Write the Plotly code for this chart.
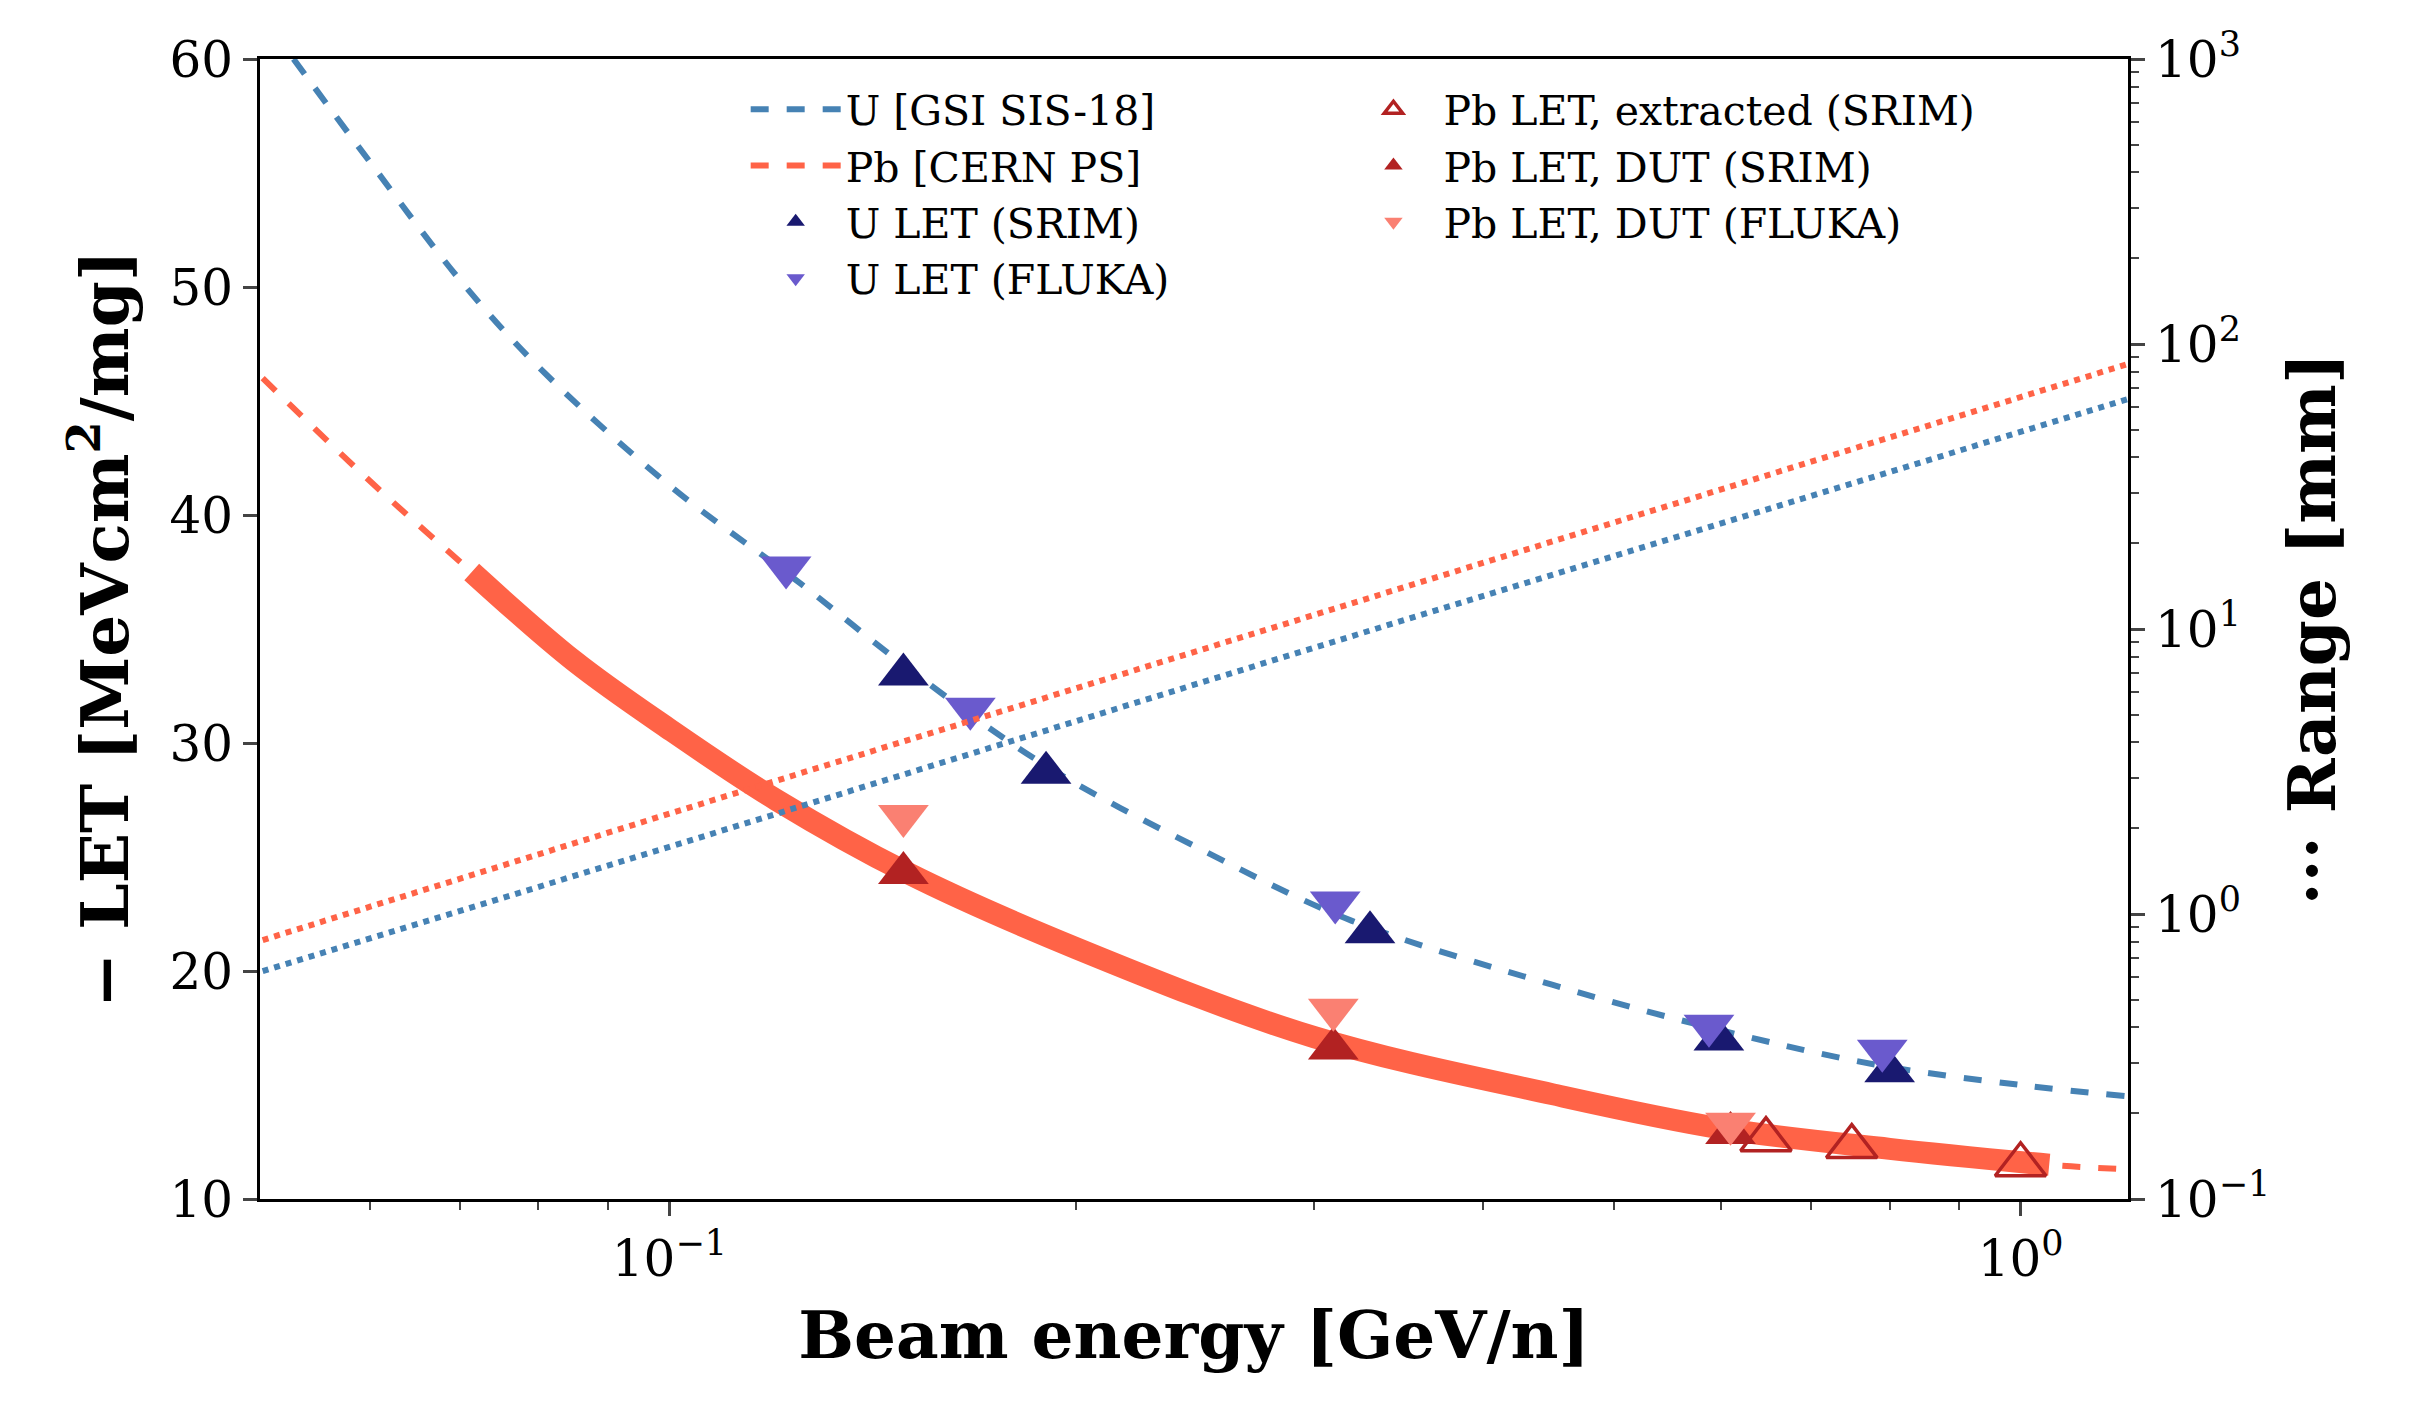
import plotly.graph_objects as go

# LET curves [MeV cm2/mg] vs beam energy [GeV/n]
u_energy = [0.0527, 0.06, 0.07, 0.08, 0.1, 0.125, 0.15, 0.19, 0.25, 0.32, 0.45, 0.6, 0.78, 1.0, 1.2]
u_let = [60.0, 55.5, 50.3, 46.5, 41.3, 37.0, 33.3, 29.0, 25.2, 22.2, 19.4, 17.4, 15.9, 15.0, 14.5]

pb_energy = [0.05, 0.06, 0.0714, 0.085, 0.1, 0.12, 0.15, 0.2, 0.3, 0.45, 0.6, 0.8, 1.05, 1.2]
pb_let = [46.0, 41.5, 37.5, 33.6, 30.6, 27.5, 24.3, 21.0, 17.1, 14.6, 13.1, 12.2, 11.5, 11.3]
pb_solid_energy = [0.0714, 0.085, 0.1, 0.12, 0.15, 0.2, 0.3, 0.45, 0.6, 0.8, 1.05]
pb_solid_let = [37.5, 33.6, 30.6, 27.5, 24.3, 21.0, 17.1, 14.6, 13.1, 12.2, 11.5]

# ranges [mm]
range_energy = [0.05, 0.1, 0.3, 1.2]
u_range = [0.63, 1.72, 8.6, 64.0]
pb_range = [0.81, 2.25, 11.2, 85.0]

# markers
u_srim_e = [0.149, 0.190, 0.33, 0.598, 0.80]
u_srim_let = [33.0, 28.7, 21.7, 17.0, 15.6]
u_fluka_e = [0.122, 0.167, 0.311, 0.588, 0.79]
u_fluka_let = [37.7, 31.5, 23.0, 17.6, 16.5]
pb_ext_e = [0.648, 0.75, 1.0]
pb_ext_let = [12.6, 12.3, 11.5]
pb_dut_srim_e = [0.149, 0.31, 0.61]
pb_dut_srim_let = [24.3, 16.6, 12.9]
pb_dut_fluka_e = [0.149, 0.31, 0.61]
pb_dut_fluka_let = [26.8, 18.3, 13.3]

BLUE = "#4682b4"
RED = "#ff6347"
FONT = "DejaVu Serif"

fig = go.Figure()

fig.add_trace(go.Scatter(x=range_energy, y=u_range, mode="lines", yaxis="y2",
                         line=dict(color=BLUE, width=6, dash="dot"), showlegend=False))
fig.add_trace(go.Scatter(x=range_energy, y=pb_range, mode="lines", yaxis="y2",
                         line=dict(color=RED, width=6, dash="dot"), showlegend=False))

fig.add_trace(go.Scatter(x=u_energy, y=u_let, mode="lines", name="U [GSI SIS-18]",
                         line=dict(color=BLUE, width=6, dash="dash", shape="spline"), legend="legend"))
fig.add_trace(go.Scatter(x=pb_energy, y=pb_let, mode="lines", name="Pb [CERN PS]",
                         line=dict(color=RED, width=6, dash="dash", shape="spline"), legend="legend"))
fig.add_trace(go.Scatter(x=pb_solid_energy, y=pb_solid_let, mode="lines", showlegend=False,
                         line=dict(color=RED, width=22, shape="spline")))

tri = dict(size=44, line=dict(width=0))
fig.add_trace(go.Scatter(x=u_srim_e, y=u_srim_let, mode="markers", name="U LET (SRIM)",
                         marker=dict(symbol="triangle-up", color="#191970", **tri), legend="legend"))
fig.add_trace(go.Scatter(x=u_fluka_e, y=u_fluka_let, mode="markers", name="U LET (FLUKA)",
                         marker=dict(symbol="triangle-down", color="#6a5acd", **tri), legend="legend"))
fig.add_trace(go.Scatter(x=pb_ext_e, y=pb_ext_let, mode="markers", name="Pb LET, extracted (SRIM)",
                         marker=dict(symbol="triangle-up-open", color="#b22222", size=44,
                                     line=dict(width=3.5)), legend="legend2"))
fig.add_trace(go.Scatter(x=pb_dut_srim_e, y=pb_dut_srim_let, mode="markers", name="Pb LET, DUT (SRIM)",
                         marker=dict(symbol="triangle-up", color="#b22222", **tri), legend="legend2"))
fig.add_trace(go.Scatter(x=pb_dut_fluka_e, y=pb_dut_fluka_let, mode="markers", name="Pb LET, DUT (FLUKA)",
                         marker=dict(symbol="triangle-down", color="#fa8072", **tri), legend="legend2"))

legend_style = dict(font=dict(family=FONT, size=41, color="black"), bgcolor="rgba(0,0,0,0)",
                    yanchor="top", xanchor="left", tracegroupgap=0, itemwidth=90,
                    itemsizing="trace")

fig.update_layout(
    width=2411, height=1402,
    margin=dict(l=252, r=291, t=51, b=211),
    plot_bgcolor="white", paper_bgcolor="white",
    font=dict(family=FONT, size=50, color="black"),
    xaxis=dict(type="log", range=[-1.303, 0.0795], showgrid=False, zeroline=False,
               showline=True, linecolor="black", linewidth=3, mirror=True,
               ticks="outside", ticklen=14, tickwidth=3,
               tickvals=[0.1, 1], ticktext=["10<sup>−1</sup>", "10<sup>0</sup>"],
               minor=dict(ticks="outside", ticklen=8, tickwidth=2,
                          tickvals=[0.06, 0.07, 0.08, 0.09, 0.2, 0.3, 0.4, 0.5, 0.6, 0.7, 0.8, 0.9]),
               title=dict(text="<b>Beam energy [GeV/n]</b>", font=dict(size=66), standoff=25)),
    yaxis=dict(range=[10, 60], dtick=10, showgrid=False, zeroline=False,
               showline=True, linecolor="black", linewidth=3,
               ticks="outside", ticklen=14, tickwidth=3,
               title=dict(text="<b>− LET [MeVcm<sup>2</sup>/mg]</b>", font=dict(size=66), standoff=20)),
    yaxis2=dict(type="log", range=[-1, 3], overlaying="y", side="right", showgrid=False,
                showline=True, linecolor="black", linewidth=3,
                ticks="outside", ticklen=14, tickwidth=3,
                tickvals=[0.1, 1, 10, 100, 1000],
                ticktext=["10<sup>−1</sup>", "10<sup>0</sup>", "10<sup>1</sup>", "10<sup>2</sup>", "10<sup>3</sup>"],
                minor=dict(ticks="outside", ticklen=8, tickwidth=2, dtick="D1"),
                title=dict(text="<b>··· Range [mm]</b>", font=dict(size=66), standoff=20)),
    legend=dict(x=0.26, y=0.985, **legend_style),
    legend2=dict(x=0.58, y=0.985, **legend_style),
)

fig.write_html("out.html")
